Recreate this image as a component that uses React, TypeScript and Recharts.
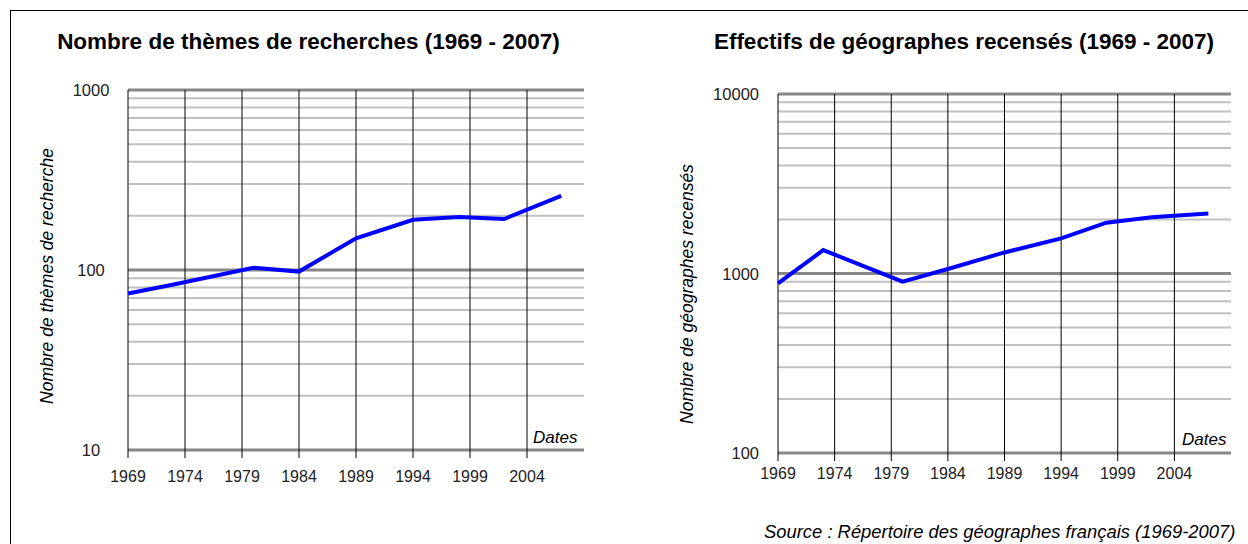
import React from "react";
import { LineChart, Line, XAxis, YAxis, CartesianGrid, ReferenceLine } from "recharts";

// années des relevés
const years = [1969, 1973, 1980, 1984, 1989, 1994, 1998, 2002, 2007];
// nombre de thèmes de recherche
const themes = [74, 83, 103, 98, 150, 190, 197, 192, 258];
// effectifs de géographes recensés
const geographes = [880, 1350, 900, 1060, 1310, 1570, 1920, 2060, 2160];

const yearTicks = [1969, 1974, 1979, 1984, 1989, 1994, 1999, 2004];
const themeTicks = [10, 20, 30, 40, 50, 60, 70, 80, 90, 100, 200, 300, 400, 500, 600, 700, 800, 900, 1000];
const themeDecades = [10, 100, 1000];
const geoTicks = [100, 200, 300, 400, 500, 600, 700, 800, 900, 1000, 2000, 3000, 4000, 5000, 6000, 7000, 8000, 9000, 10000];
const geoDecades = [100, 1000, 10000];

const FONT = '"Liberation Sans", Arial, sans-serif';

const themesData = years.map((y, i) => ({ year: y, value: themes[i] }));
const geoData = years.map((y, i) => ({ year: y, value: geographes[i] }));

function makeTick(decades: number[], x: number, anchor: "middle" | "end") {
  return (props: any) => {
    const { y, payload } = props;
    if (!decades.includes(payload.value)) return <g />;
    return (
      <text x={x} y={y} dy={6} textAnchor={anchor} fontSize={16.5} fill="#222" fontFamily={FONT}>
        {payload.value}
      </text>
    );
  };
}

function LogChart(props: {
  data: { year: number; value: number }[];
  ticks: number[];
  decades: number[];
  width: number;
  axisWidth: number;
  margin: { top: number; right: number; bottom: number; left: number };
  tickX: number;
  anchor: "middle" | "end";
  tickMargin: number;
}) {
  const { data, ticks, decades, width, axisWidth, margin, tickX, anchor, tickMargin } = props;
  return (
    <LineChart width={width} height={544} data={data} margin={margin}>
      <CartesianGrid vertical={false} stroke="#c0c0c0" strokeWidth={2} />
      {decades.map((d) => (
        <ReferenceLine key={"d" + d} y={d} stroke="#888" strokeWidth={3} />
      ))}
      {yearTicks.map((yr) => (
        <ReferenceLine key={"y" + yr} x={yr} stroke="#000" strokeWidth={1} />
      ))}
      <XAxis
        type="number"
        dataKey="year"
        domain={[1969, 2009]}
        ticks={yearTicks}
        axisLine={false}
        tickLine={{ stroke: "#000" }}
        tickSize={8}
        tickMargin={tickMargin}
        height={60}
        tick={{ fontSize: 16, fill: "#222", fontFamily: FONT }}
      />
      <YAxis
        type="number"
        scale="log"
        domain={[decades[0], decades[2]]}
        allowDataOverflow
        ticks={ticks}
        interval={0}
        axisLine={false}
        tickLine={false}
        width={axisWidth}
        tick={makeTick(decades, tickX, anchor)}
      />
      <Line
        type="linear"
        dataKey="value"
        stroke="#0000ff"
        strokeWidth={4}
        dot={false}
        isAnimationActive={false}
      />
    </LineChart>
  );
}

const abs = (left: number, top: number): React.CSSProperties => ({
  position: "absolute",
  left,
  top,
  whiteSpace: "nowrap",
  fontFamily: FONT,
  color: "#000",
});

export default function App() {
  return (
    <div style={{ position: "absolute", left: 0, top: 0, width: 1248, height: 544, overflow: "hidden", background: "#fff" }}>
      <div style={{ position: "absolute", left: 10, top: 10, width: 1300, height: 600, borderTop: "1px solid #000", borderLeft: "1px solid #000" }} />

      <div style={{ position: "absolute", left: 0, top: 0 }}>
        <LogChart
          data={themesData}
          ticks={themeTicks}
          decades={themeDecades}
          width={620}
          axisWidth={128}
          margin={{ top: 90, right: 36, bottom: 34, left: 0 }}
          tickX={91}
          anchor="middle"
          tickMargin={13}
        />
      </div>
      <div style={{ position: "absolute", left: 620, top: 0 }}>
        <LogChart
          data={geoData}
          ticks={geoTicks}
          decades={geoDecades}
          width={628}
          axisWidth={158}
          margin={{ top: 94, right: 17, bottom: 31, left: 0 }}
          tickX={139}
          anchor="end"
          tickMargin={7}
        />
      </div>

      <div style={{ ...abs(0, 29), width: 617, textAlign: "center", fontSize: 22.5, fontWeight: "bold" }}>
        Nombre de thèmes de recherches (1969 - 2007)
      </div>
      <div style={{ ...abs(0, 29), left: 658, width: 612, textAlign: "center", fontSize: 22.5, fontWeight: "bold" }}>
        Effectifs de géographes recensés (1969 - 2007)
      </div>

      <div style={{ ...abs(47, 276), fontSize: 17.5, fontStyle: "italic", transform: "translate(-50%, -50%) rotate(-90deg)" }}>
        Nombre de thèmes de recherche
      </div>
      <div style={{ ...abs(687, 294), fontSize: 17.5, fontStyle: "italic", transform: "translate(-50%, -50%) rotate(-90deg)" }}>
        Nombre de géographes recensés
      </div>

      <div style={{ ...abs(533, 428), fontSize: 17, fontStyle: "italic" }}>Dates</div>
      <div style={{ ...abs(1182, 430), fontSize: 17, fontStyle: "italic" }}>Dates</div>

      <div style={{ ...abs(764, 521), fontSize: 18.4, fontStyle: "italic" }}>
        Source : Répertoire des géographes français (1969-2007)
      </div>
    </div>
  );
}
